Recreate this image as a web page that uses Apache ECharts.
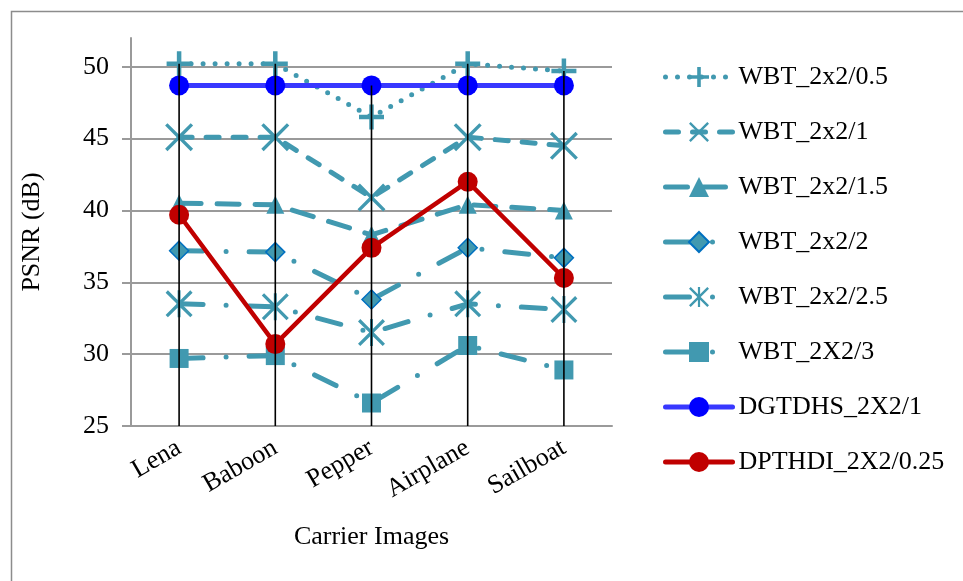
<!DOCTYPE html>
<html>
<head>
<meta charset="utf-8">
<script src="https://cdn.jsdelivr.net/npm/echarts@6/dist/echarts.min.js"></script>
<style>
  html, body { margin: 0; padding: 0; background: #fff; }
  #chart { width: 963px; height: 581px; }
</style>
</head>
<body>
<div id="chart"></div>
<script>
// PSNR (dB) per carrier image for each embedding scheme
const categories = ['Lena', 'Baboon', 'Pepper', 'Airplane', 'Sailboat'];
const wbt05  = [50.2, 50.2, 46.5, 50.2, 49.7];
const wbt1   = [45.1, 45.1, 40.9, 45.1, 44.5];
const wbt15  = [40.5, 40.4, 38.3, 40.4, 40.0];
const wbt2   = [37.2, 37.1, 33.8, 37.4, 36.7];
const wbt25  = [33.5, 33.3, 31.5, 33.5, 33.1];
const wbt3   = [29.7, 29.9, 26.6, 30.6, 28.9];
const dgtdhs = [48.7, 48.7, 48.7, 48.7, 48.7];
const dpthdi = [39.7, 30.7, 37.4, 42.0, 35.3];
const seriesNames = ['WBT_2x2/0.5', 'WBT_2x2/1', 'WBT_2x2/1.5', 'WBT_2x2/2',
                     'WBT_2x2/2.5', 'WBT_2X2/3', 'DGTDHS_2X2/1', 'DPTHDI_2X2/0.25'];
const yTicks = [25, 30, 35, 40, 45, 50];
const yMin = 25, yMax = 52;

const FONT = "'Liberation Serif', 'Times New Roman', serif";
const TEAL = '#4199B0';
const GRAY = '#9a9a9a';

// marker outlines (filled polygons in a 20x20 box)
const PLUS = 'path://M8.2,0H11.8V8.2H20V11.8H11.8V20H8.2V11.8H0V8.2H8.2Z';
const d = 1.7;
const XPOLY = `M0,${d}L${d},0L10,${10 - d}L${20 - d},0L20,${d}L${10 + d},10L20,${20 - d}L${20 - d},20L10,${10 + d}L${d},20L0,${20 - d}L${10 - d},10Z`;
const CROSS = 'path://' + XPOLY;
const STAR = 'path://' + XPOLY + 'M8.9,0H11.1V20H8.9Z';

const dashDot = [24, 23, 0, 23];

function teal(name, data, symbol, size, dash, extraItem) {
  return {
    name, type: 'line', data, symbol, symbolSize: size, z: 3,
    lineStyle: { color: TEAL, width: 5, type: dash, cap: 'round', join: 'round' },
    itemStyle: Object.assign({ color: TEAL }, extraItem || {})
  };
}

const allValues = [wbt05, wbt1, wbt15, wbt2, wbt25, wbt3, dgtdhs, dpthdi];
// drop lines run from the highest value of each category down to the axis
const dropTops = categories.map((c, i) => [i, Math.max(...allValues.map(s => s[i]))]);

const chart = echarts.init(document.getElementById('chart'), null, { renderer: 'canvas' });
chart.setOption({
  animation: false,
  backgroundColor: '#fff',
  graphic: [{
    type: 'rect', left: 9, top: 9, z: -10,
    shape: { x: 0, y: 0, width: 1000, height: 1000 },
    style: { fill: 'none', stroke: '#8c8c8c', lineWidth: 1.5 }
  }],
  grid: { left: 131, right: 351, top: 38, bottom: 155, containLabel: false, outerBoundsMode: 'none' },
  legend: {
    orient: 'vertical', left: 658, top: 59, itemGap: 29,
    itemWidth: 67, itemHeight: 25,
    data: seriesNames,
    lineStyle: { width: 5, cap: 'round' },
    textStyle: { fontFamily: FONT, fontSize: 26, color: '#000', padding: [0, 0, 0, 1] }
  },
  xAxis: {
    type: 'category', data: categories, boundaryGap: true,
    name: 'Carrier Images', nameLocation: 'middle', nameGap: 98,
    nameTextStyle: { fontFamily: FONT, fontSize: 26, color: '#000' },
    axisLine: { lineStyle: { color: GRAY, width: 2 } },
    axisTick: { alignWithLabel: true, length: 6, lineStyle: { color: '#000', width: 1.5 } },
    axisLabel: { rotate: 30, margin: 20, fontFamily: FONT, fontSize: 26, color: '#000' },
    splitLine: { show: false }
  },
  yAxis: {
    type: 'value', min: yMin, max: yMax, interval: 5,
    name: 'PSNR (dB)', nameLocation: 'middle', nameGap: 86, nameRotate: 90,
    nameTextStyle: { fontFamily: FONT, fontSize: 26, color: '#000' },
    axisLine: { show: true, lineStyle: { color: GRAY, width: 2 } },
    axisTick: { show: true, length: 9, customValues: yTicks, lineStyle: { color: GRAY, width: 2 } },
    axisLabel: { margin: 22, customValues: yTicks,
                 fontFamily: FONT, fontSize: 26, color: '#000' },
    splitLine: { show: true, lineStyle: { color: GRAY, width: 2 } }
  },
  series: [
    teal(seriesNames[0], wbt05, PLUS, 25, [0, 12]),
    teal(seriesNames[1], wbt1, CROSS, 28, [13, 14]),
    teal(seriesNames[2], wbt15, 'triangle', 18, [22, 16]),
    teal(seriesNames[3], wbt2, 'diamond', 19, dashDot, { borderColor: '#0070C0', borderWidth: 1.5 }),
    teal(seriesNames[4], wbt25, STAR, 27, dashDot),
    teal(seriesNames[5], wbt3, 'rect', 19, dashDot),
    {
      name: seriesNames[6], type: 'line', data: dgtdhs, symbol: 'circle', symbolSize: 20, z: 4,
      lineStyle: { color: '#3838FF', width: 5 },
      itemStyle: { color: '#0000FF' }
    },
    {
      name: seriesNames[7], type: 'line', data: dpthdi, symbol: 'circle', symbolSize: 20, z: 5,
      lineStyle: { color: '#C00000', width: 4.5 },
      itemStyle: { color: '#C00000' }
    },
    {
      name: 'drop', type: 'custom', z: 10, silent: true,
      data: dropTops,
      encode: { x: 0, y: 1 },
      renderItem(params, api) {
        const top = api.coord([api.value(0), api.value(1)]);
        const bottom = api.coord([api.value(0), yMin]);
        return {
          type: 'line',
          shape: { x1: top[0], y1: top[1], x2: bottom[0], y2: bottom[1] },
          style: { stroke: '#000', lineWidth: 1.6 }
        };
      }
    }
  ]
});
</script>
</body>
</html>
